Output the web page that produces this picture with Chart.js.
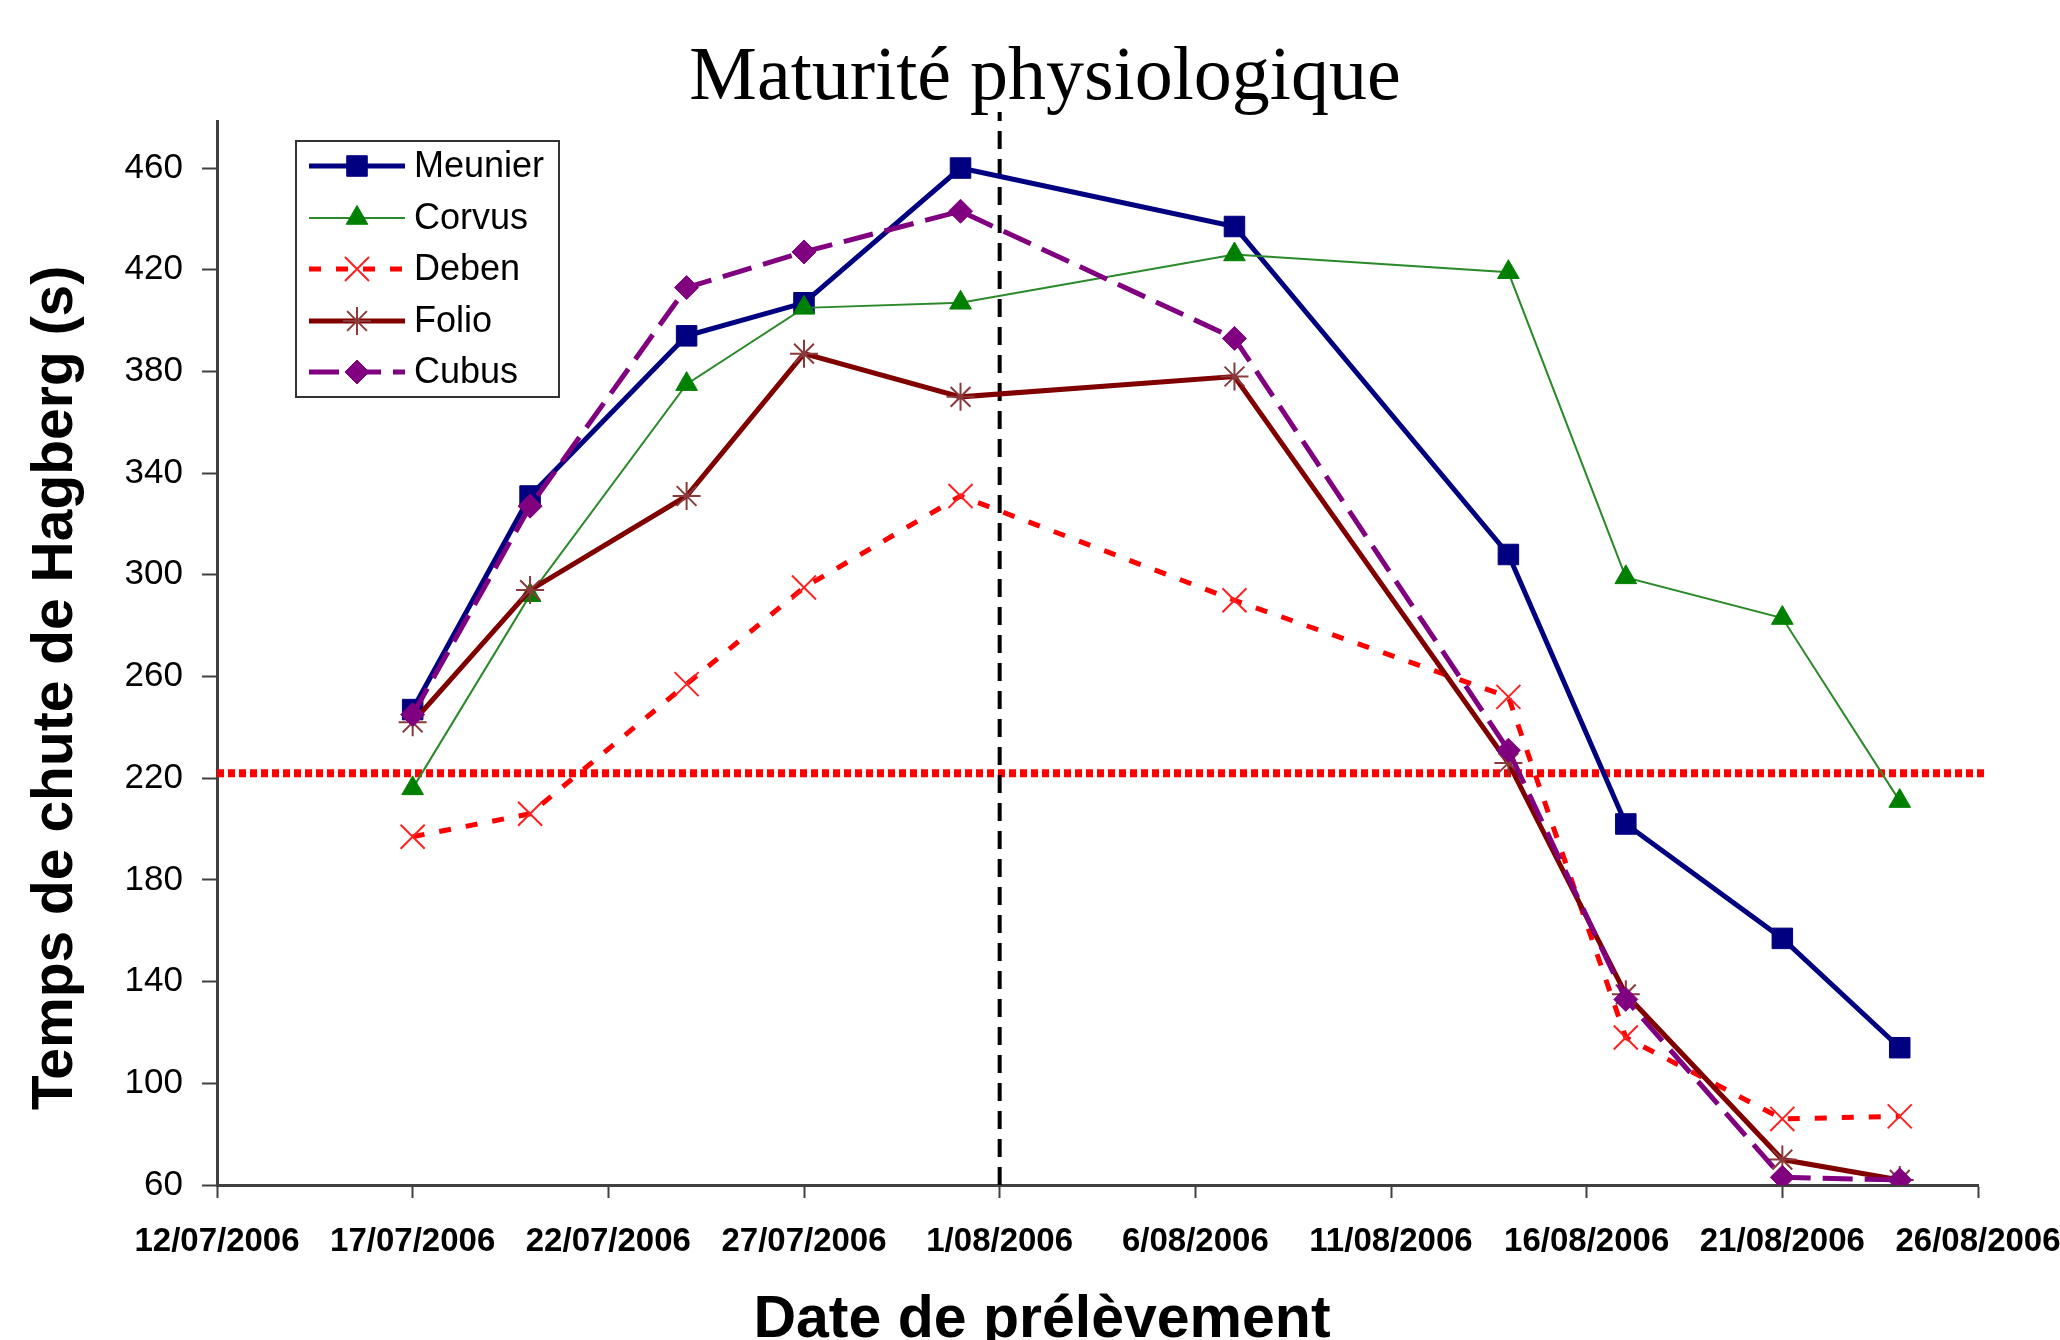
<!DOCTYPE html>
<html>
<head>
<meta charset="utf-8">
<script src="https://cdn.jsdelivr.net/npm/chart.js@4.4.1/dist/chart.umd.min.js"></script>
<style>
  html, body { margin: 0; padding: 0; background: #ffffff; }
  #wrap { width: 2060px; height: 1340px; position: relative; }
</style>
</head>
<body>
<div id="wrap"><canvas id="c" width="2060" height="1340"></canvas></div>
<script>
// ---------- DATA ----------
const tickLabels = ['12/07/2006','17/07/2006','22/07/2006','27/07/2006','1/08/2006','6/08/2006','11/08/2006','16/08/2006','21/08/2006','26/08/2006'];
const sampleDates = ['17/07/2006','20/07/2006','24/07/2006','27/07/2006','31/07/2006','7/08/2006','14/08/2006','17/08/2006','21/08/2006','24/08/2006'];
const seriesNames = ['Meunier','Corvus','Deben','Folio','Cubus'];
const meunier = [247, 331, 394, 407, 460, 437, 308, 202, 157, 114];
const corvus  = [216, 292, 375, 405, 407, 426, 419, 299, 283, 211];
const deben   = [197, 206, 257, 295, 331, 290, 252, 118, 86, 87];
const folio   = [242, 294, 331, 387, 370, 378, 226, 135, 70, 62];
const cubus   = [245, 327, 413, 427, 443, 393, 231, 133, 63, 62];
const yTicks  = [60, 100, 140, 180, 220, 260, 300, 340, 380, 420, 460];
const thresholdValue = 222;          // seuil horizontal (s)
const maturityDate = '1/08/2006';    // maturité physiologique
const chartTitle = 'Maturité physiologique';
const yTitle = 'Temps de chute de Hagberg (s)';
const xTitle = 'Date de prélèvement';

// ---------- helpers ----------
function toUTC(s) { const p = s.split('/').map(Number); return Date.UTC(p[2], p[1] - 1, p[0]); }
const origin = toUTC(tickLabels[0]);
function dayIdx(s) { return (toUTC(s) - origin) / 86400000; }
const xMax = dayIdx(tickLabels[tickLabels.length - 1]);
const xStep = dayIdx(tickLabels[1]);
function pts(vals) { return vals.map((v, i) => ({ x: dayIdx(sampleDates[i]), y: v })); }

const AXIS = '#404040';
const SANS = "'Liberation Sans', Arial, sans-serif";

const datasets = [
  { label: seriesNames[0], data: pts(meunier), borderColor: '#000080', backgroundColor: '#000080',
    borderWidth: 5, pointStyle: 'rect', pointRadius: 14.5, pointBorderColor: '#000080', pointBackgroundColor: '#000080', pointBorderWidth: 1, order: 5 },
  { label: seriesNames[1], data: pts(corvus), borderColor: '#2a8a2a', backgroundColor: '#008000',
    borderWidth: 2, pointStyle: 'triangle', pointRadius: 12.5, pointBorderColor: '#008000', pointBackgroundColor: '#008000', pointBorderWidth: 1, order: 4 },
  { label: seriesNames[2], data: pts(deben), borderColor: '#ff0000', backgroundColor: '#ff0000',
    borderWidth: 5, borderDash: [12, 15], pointStyle: 'crossRot', pointRadius: 17, pointBorderColor: '#ff2020', pointBorderWidth: 2, order: 3 },
  { label: seriesNames[3], data: pts(folio), borderColor: '#800000', backgroundColor: '#800000',
    borderWidth: 5, pointStyle: 'star', pointRadius: 14, pointBorderColor: '#8a3a3a', pointBorderWidth: 2, order: 2 },
  { label: seriesNames[4], data: pts(cubus), borderColor: '#800080', backgroundColor: '#800080',
    borderWidth: 5, borderDash: [30, 12], pointStyle: 'rectRot', pointRadius: 12, pointBorderColor: '#800080', pointBackgroundColor: '#800080', pointBorderWidth: 1, order: 1 },
  { label: '_threshold', data: [{ x: 0, y: thresholdValue }, { x: xMax + 0.2, y: thresholdValue }], borderColor: '#ff0000',
    borderWidth: 8, borderDash: [7, 4], pointRadius: 0, order: 7, clip: false },
  { label: '_maturity', data: [{ x: dayIdx(maturityDate), y: 60 }, { x: dayIdx(maturityDate), y: 482 }], borderColor: '#000000',
    borderWidth: 4, borderDash: [18, 10], pointRadius: 0, order: 6, clip: false }
];

function drawMarker(ctx, ds, x, y) {
  ctx.save();
  ctx.fillStyle = ds.pointBackgroundColor || ds.backgroundColor;
  ctx.strokeStyle = ds.pointBorderColor || ds.borderColor;
  ctx.lineWidth = ds.pointBorderWidth || 1;
  ctx.setLineDash([]);
  if (Chart.helpers && Chart.helpers.drawPoint) {
    Chart.helpers.drawPoint(ctx, { pointStyle: ds.pointStyle, radius: ds.pointRadius, borderWidth: ds.pointBorderWidth, rotation: 0 }, x, y);
  }
  ctx.restore();
}

const decorPlugin = {
  id: 'decor',
  afterDraw(chart) {
    const ctx = chart.ctx;
    ctx.save();
    // chart title
    ctx.fillStyle = '#000';
    ctx.font = "76px 'Liberation Serif', 'Times New Roman', serif";
    ctx.textAlign = 'center';
    ctx.textBaseline = 'alphabetic';
    ctx.fillText(chartTitle, 1045, 99);
    // x title
    ctx.font = 'bold 59px ' + SANS;
    ctx.fillText(xTitle, 1042, 1337);
    // y title
    ctx.save();
    ctx.translate(72, 688);
    ctx.rotate(-Math.PI / 2);
    ctx.font = 'bold 57px ' + SANS;
    ctx.fillText(yTitle, 0, 0);
    ctx.restore();

    // legend
    const bx = 296, by = 141, bw = 263, bh = 256;
    ctx.fillStyle = '#fff';
    ctx.fillRect(bx, by, bw, bh);
    ctx.strokeStyle = '#333';
    ctx.lineWidth = 2;
    ctx.strokeRect(bx, by, bw, bh);
    const rowsY = [166, 218, 269, 321, 372];
    for (let i = 0; i < 5; i++) {
      const ds = chart.data.datasets[i];
      const y = rowsY[i];
      ctx.save();
      ctx.strokeStyle = ds.borderColor;
      ctx.lineWidth = ds.borderWidth;
      ctx.setLineDash(ds.borderDash || []);
      ctx.beginPath();
      ctx.moveTo(309, y);
      ctx.lineTo(405, y);
      ctx.stroke();
      ctx.restore();
      drawMarker(ctx, ds, 357, y);
      ctx.fillStyle = '#000';
      ctx.font = '36px ' + SANS;
      ctx.textAlign = 'left';
      ctx.textBaseline = 'middle';
      ctx.fillText(ds.label, 414, y + 1);
    }
    ctx.restore();
  }
};

new Chart(document.getElementById('c'), {
  type: 'line',
  data: { datasets },
  options: {
    responsive: false,
    animation: false,
    devicePixelRatio: 1,
    layout: { padding: { left: 0, right: 82, top: 121, bottom: 0 } },
    plugins: { legend: { display: false }, tooltip: { enabled: false }, title: { display: false } },
    elements: { line: { tension: 0, fill: false } },
    scales: {
      x: {
        type: 'linear', min: 0, max: xMax,
        ticks: {
          stepSize: xStep, autoSkip: false, maxRotation: 0, minRotation: 0, padding: 24,
          color: '#000', font: { family: SANS, size: 33, weight: 'bold' },
          callback: (v) => tickLabels[Math.round(v / xStep)]
        },
        grid: { drawOnChartArea: false, drawTicks: true, tickLength: 13, tickColor: AXIS, tickWidth: 2 },
        border: { color: AXIS, width: 3 },
        afterFit(s) { s.height = 155; s.paddingLeft = 0; s.paddingRight = 0; }
      },
      y: {
        type: 'linear', min: 60, max: 478.5,
        afterBuildTicks(s) { s.ticks = yTicks.map(v => ({ value: v })); },
        ticks: { color: '#000', font: { family: SANS, size: 35 }, padding: 19 },
        grid: { drawOnChartArea: false, drawTicks: true, tickLength: 15, tickColor: AXIS, tickWidth: 2 },
        border: { color: AXIS, width: 3 },
        afterFit(s) { s.width = 217; s.paddingTop = 0; s.paddingBottom = 0; }
      }
    }
  },
  plugins: [decorPlugin]
});
</script>
</body>
</html>
